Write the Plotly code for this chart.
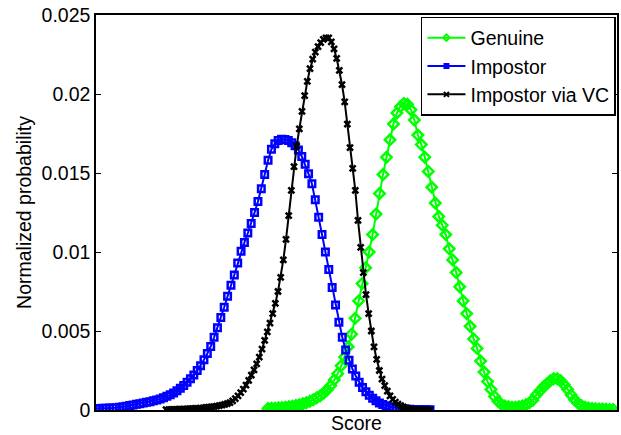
import numpy as np
import plotly.graph_objects as go

# Score grids (ksdensity-style, 100 evenly spaced points per curve)
genuine_range = (2.68, 6.13)
impostor_range = (0.96, 4.30)
impostor_vc_range = (1.66, 4.30)
n_points = 100

genuine = [
    0.00010, 0.00011, 0.00012, 0.00014, 0.00016, 0.00018, 0.00021, 0.00024, 0.00028, 0.00033,
    0.00039, 0.00046, 0.00055, 0.00065, 0.00077, 0.00090, 0.00107, 0.00128, 0.00155, 0.00190,
    0.00230, 0.00280, 0.00335, 0.00400, 0.00480, 0.00580, 0.00690, 0.00800, 0.00900, 0.01000,
    0.01110, 0.01240, 0.01370, 0.01490, 0.01600, 0.01710, 0.01810, 0.01880, 0.01920, 0.01940,
    0.01935, 0.01900, 0.01835, 0.01740, 0.01680, 0.01600, 0.01510, 0.01410, 0.01310, 0.01225,
    0.01170, 0.01110, 0.01020, 0.00950, 0.00870, 0.00780, 0.00690, 0.00610, 0.00530, 0.00450,
    0.00390, 0.00310, 0.00240, 0.00180, 0.00130, 0.00085, 0.00055, 0.00035, 0.00025, 0.00020,
    0.00018, 0.00018, 0.00020, 0.00025, 0.00033, 0.00045, 0.00062, 0.00095, 0.00120, 0.00145,
    0.00165, 0.00185, 0.00198, 0.00198, 0.00185, 0.00160, 0.00130, 0.00095, 0.00065, 0.00042,
    0.00027, 0.00018, 0.00013, 0.00010, 0.00008, 0.00007, 0.00006, 0.00005, 0.00004, 0.00004,
]

impostor = [
    0.00010, 0.00010, 0.00011, 0.00011, 0.00012, 0.00013, 0.00015, 0.00017, 0.00020, 0.00024,
    0.00028, 0.00032, 0.00036, 0.00040, 0.00044, 0.00049, 0.00053, 0.00058, 0.00063, 0.00070,
    0.00078, 0.00087, 0.00096, 0.00108, 0.00122, 0.00138, 0.00155, 0.00175, 0.00197, 0.00222,
    0.00250, 0.00280, 0.00318, 0.00358, 0.00402, 0.00460, 0.00520, 0.00585, 0.00650, 0.00720,
    0.00790, 0.00855, 0.00930, 0.01005, 0.01060, 0.01120, 0.01180, 0.01250, 0.01320, 0.01400,
    0.01490, 0.01580, 0.01650, 0.01685, 0.01705, 0.01713, 0.01712, 0.01705, 0.01692, 0.01672,
    0.01645, 0.01605, 0.01555, 0.01495, 0.01432, 0.01330, 0.01220, 0.01110, 0.01000, 0.00890,
    0.00775, 0.00665, 0.00555, 0.00460, 0.00380, 0.00315, 0.00260, 0.00215, 0.00175, 0.00142,
    0.00115, 0.00093, 0.00074, 0.00058, 0.00045, 0.00035, 0.00027, 0.00021, 0.00016, 0.00012,
    0.00009, 0.00007, 0.00005, 0.00004, 0.00003, 0.00002, 0.00002, 0.00001, 0.00001, 0.00001,
]

impostor_vc = [
    0.00002, 0.00003, 0.00003, 0.00004, 0.00004, 0.00005, 0.00005, 0.00006, 0.00007, 0.00008,
    0.00009, 0.00010, 0.00011, 0.00012, 0.00014, 0.00016, 0.00018, 0.00020, 0.00022, 0.00025,
    0.00028, 0.00031, 0.00035, 0.00040, 0.00047, 0.00058, 0.00072, 0.00090, 0.00110, 0.00132,
    0.00158, 0.00188, 0.00220, 0.00254, 0.00292, 0.00335, 0.00385, 0.00440, 0.00495, 0.00550,
    0.00610, 0.00675, 0.00750, 0.00840, 0.00950, 0.01080, 0.01230, 0.01390, 0.01540, 0.01670,
    0.01780, 0.01890, 0.01990, 0.02080, 0.02160, 0.02220, 0.02265, 0.02300, 0.02325, 0.02345,
    0.02355, 0.02355, 0.02330, 0.02285, 0.02225, 0.02150, 0.02060, 0.01950, 0.01810, 0.01660,
    0.01530, 0.01390, 0.01200, 0.01030, 0.00870, 0.00730, 0.00610, 0.00500, 0.00400, 0.00320,
    0.00250, 0.00195, 0.00155, 0.00120, 0.00090, 0.00068, 0.00050, 0.00037, 0.00027, 0.00019,
    0.00013, 0.00009, 0.00006, 0.00004, 0.00003, 0.00002, 0.00002, 0.00001, 0.00001, 0.00001,
]

series_names = ["Genuine", "Impostor", "Impostor via VC"]
y_ticks = [0, 0.005, 0.01, 0.015, 0.02, 0.025]
y_tick_labels = ["0", "0.005", "0.01", "0.015", "0.02", "0.025"]
x_limits = (0.96, 6.17)

FONT = "Liberation Sans, Arial, Helvetica, sans-serif"
FS = 19.5
LFS = 19.5

fig = go.Figure()
specs = [
    (series_names[0], genuine_range, genuine, "#00ff00", "diamond-open", 8, 5),
    (series_names[1], impostor_range, impostor, "#0000ff", "square-open", 6.5, 4),
    (series_names[2], impostor_vc_range, impostor_vc, "#000000", "x-thin-open", 6, 5),
]
for name, rng, vals, col, sym, msize, lsize in specs:
    xs = np.linspace(rng[0], rng[1], n_points)
    fig.add_trace(go.Scatter(
        x=xs, y=vals, name=name, mode="lines+markers", showlegend=False,
        line=dict(color=col, width=2),
        marker=dict(symbol=sym, size=msize, color=col, line=dict(color=col, width=2.5)),
    ))
# legend entries (smaller markers, as in the original legend)
for name, rng, vals, col, sym, msize, lsize in specs:
    fig.add_trace(go.Scatter(
        x=[None], y=[None], name=name, mode="lines+markers", showlegend=True,
        line=dict(color=col, width=2),
        marker=dict(symbol=sym, size=lsize, color=col, line=dict(color=col, width=2)),
    ))

fig.update_layout(
    width=621, height=435,
    margin=dict(l=96, r=4, t=15, b=25),
    paper_bgcolor="white", plot_bgcolor="white",
    font=dict(family=FONT, size=FS, color="black"),
    showlegend=True,
    legend=dict(
        x=0.998, y=0.995, xanchor="right", yanchor="top",
        bgcolor="white", bordercolor="black", borderwidth=1.5,
        font=dict(family=FONT, size=LFS, color="black"),
        tracegroupgap=0, itemwidth=38,
    ),
)
fig.update_xaxes(
    range=list(x_limits), showgrid=False, zeroline=False,
    showline=True, linecolor="black", linewidth=1.5, mirror=True,
    showticklabels=False, ticks="",
    title=dict(text="Score", standoff=6, font=dict(family=FONT, size=FS)),
    automargin=False,
)
fig.update_yaxes(
    range=[0, 0.025], showgrid=False, zeroline=False,
    showline=True, linecolor="black", linewidth=1.5, mirror="ticks",
    tickvals=y_ticks, ticktext=y_tick_labels,
    ticks="inside", ticklen=5, tickcolor="black", tickwidth=1,
    title=dict(text="Normalized probability", standoff=5, font=dict(family=FONT, size=FS)),
    automargin=False,
)

fig.write_html(
    "out.html",
    config={"displayModeBar": False},
    post_script="document.body.style.margin='0';document.body.style.overflow='hidden';",
)
